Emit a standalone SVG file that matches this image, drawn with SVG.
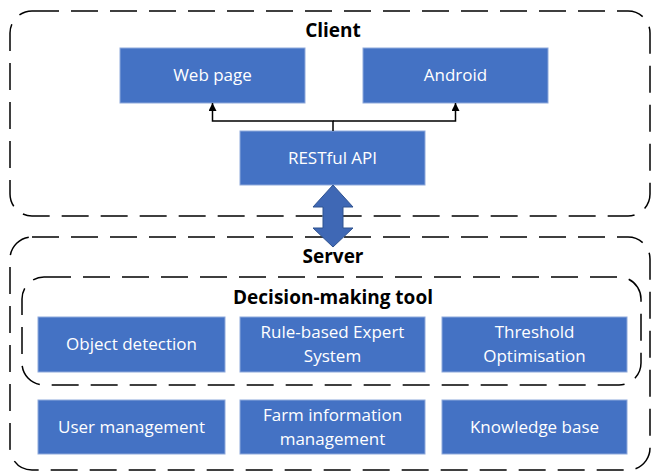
<svg xmlns="http://www.w3.org/2000/svg" width="652" height="472" viewBox="0 0 652 472">
<defs>
<style>
.cont{fill:none;stroke:#000;stroke-width:1.5;stroke-dasharray:27 12}
.box{fill:#4472C4;stroke:#8EA9DB;stroke-width:1}
.lbl{font-family:"Open Sans","Liberation Sans",Arial,sans-serif;font-size:17px;fill:#fff;text-anchor:middle;dominant-baseline:central}
.ttl{font-family:"Open Sans","Liberation Sans",Arial,sans-serif;font-size:19px;font-weight:bold;fill:#000;text-anchor:middle;dominant-baseline:central}
.conn{fill:none;stroke:#000;stroke-width:1.5}
</style>
<marker id="ah" viewBox="0 0 10 10" refX="10" refY="5" markerWidth="8" markerHeight="8" markerUnits="userSpaceOnUse" orient="auto">
<path d="M0,0 L10,5 L0,10 Z" fill="#000"/>
</marker>
</defs>
<rect width="652" height="472" fill="#fff"/>
<g id="client">
<rect class="cont" x="10" y="11" width="640" height="205" rx="22"/>
<text class="ttl" x="333" y="30">Client</text>
</g>
<g id="server">
<rect class="cont" x="10" y="237" width="640" height="233" rx="22"/>
<text class="ttl" x="333" y="256">Server</text>
</g>
<g id="decision">
<rect class="cont" x="22" y="277" width="619" height="108" rx="22"/>
<text class="ttl" x="333" y="297">Decision-making tool</text>
</g>
<g id="webpage">
<rect class="box" x="120" y="48" width="185" height="55"/>
<text class="lbl" x="212.5" y="74.5">Web page</text>
</g>
<g id="android">
<rect class="box" x="363" y="48" width="185" height="55"/>
<text class="lbl" x="455.5" y="74.5">Android</text>
</g>
<g id="restful">
<rect class="box" x="240" y="131" width="185" height="54"/>
<text class="lbl" x="332.5" y="157">RESTful API</text>
</g>
<g id="objdet">
<rect class="box" x="38" y="317" width="187" height="55"/>
<text class="lbl" x="131.5" y="343.5">Object detection</text>
</g>
<g id="rulebased">
<rect class="box" x="240" y="317" width="185" height="55"/>
<text class="lbl" x="332.5" y="331.5">Rule-based Expert</text>
<text class="lbl" x="332.5" y="355.5">System</text>
</g>
<g id="threshold">
<rect class="box" x="442" y="317" width="185" height="55"/>
<text class="lbl" x="534.5" y="331.5">Threshold</text>
<text class="lbl" x="534.5" y="355.5">Optimisation</text>
</g>
<g id="usermgmt">
<rect class="box" x="38" y="400" width="187" height="54"/>
<text class="lbl" x="131.5" y="426">User management</text>
</g>
<g id="farminfo">
<rect class="box" x="240" y="400" width="185" height="54"/>
<text class="lbl" x="332.5" y="414">Farm information</text>
<text class="lbl" x="332.5" y="438">management</text>
</g>
<g id="knowledge">
<rect class="box" x="442" y="400" width="185" height="54"/>
<text class="lbl" x="534.5" y="426">Knowledge base</text>
</g>
<g id="connectors">
<path class="conn" d="M333,131 V121 H212.5 V103" marker-end="url(#ah)"/>
<path class="conn" d="M333,121 H455.5 V103" marker-end="url(#ah)"/>
<path d="M333,185 L353,207 L343,207 L343,228 L353,228 L333,247 L313,228 L323,228 L323,207 L313,207 Z" fill="#3F68B5" stroke="#2F528F" stroke-width="1"/>
</g>
</svg>
